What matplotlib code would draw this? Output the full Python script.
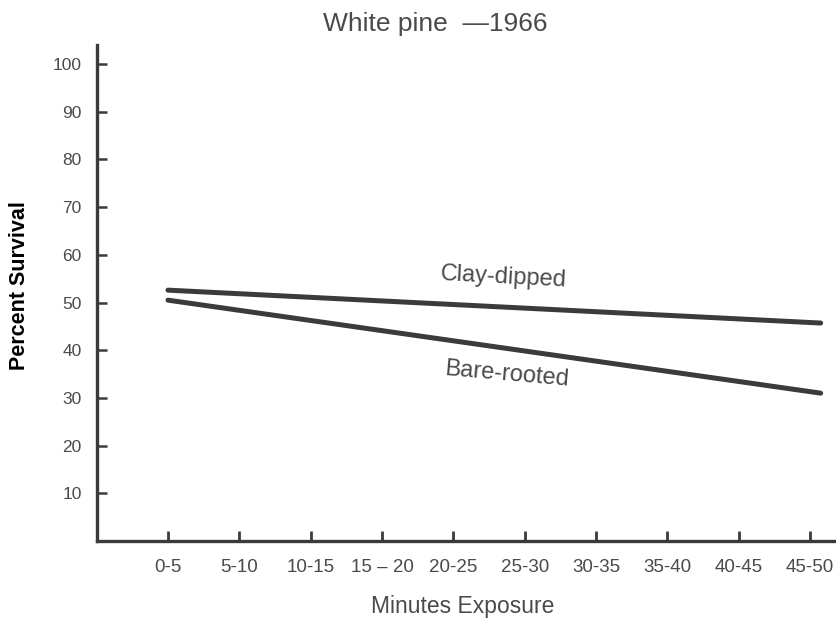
import matplotlib
matplotlib.use("Agg")
import matplotlib.pyplot as plt

# Data
categories = ["0-5", "5-10", "10-15", "15 \u2013 20", "20-25", "25-30", "30-35", "35-40", "40-45", "45-50"]
y_ticks = [10, 20, 30, 40, 50, 60, 70, 80, 90, 100]
line_x = [0, 9.15]                      # position along the category axis
clay_dipped = [52.6, 45.7]
bare_rooted = [50.5, 31.0]

plt.rcParams['font.family'] = ['Liberation Sans', 'DejaVu Sans']
ink = '#3a3c3c'
txt = '#4a4a4a'

fig = plt.figure(figsize=(8.36, 6.21), dpi=100)
ax = fig.add_axes([97/836, 80/621, 1 - 97/836, (541-45)/621])

ax.plot(line_x, clay_dipped, color=ink, lw=3.6, solid_capstyle='round')
ax.plot(line_x, bare_rooted, color=ink, lw=3.6, solid_capstyle='round')

ax.set_xlim(-0.995, 9.365)
ax.set_ylim(0, 104)

ax.set_xticks(range(len(categories)))
ax.set_xticklabels(categories)
ax.set_yticks(y_ticks)
ax.set_yticklabels([str(v) for v in y_ticks])

ax.tick_params(axis='x', direction='in', length=7, width=2, color=ink,
               pad=13, labelsize=13.5, labelcolor=txt)
ax.tick_params(axis='y', direction='in', length=7, width=1.8, color=ink,
               pad=11, labelsize=12.5, labelcolor=txt)

for s in ['top', 'right']:
    ax.spines[s].set_visible(False)
for s in ['left', 'bottom']:
    ax.spines[s].set_color(ink)
    ax.spines[s].set_linewidth(2.4)

ax.text(4.7, 55.2, "Clay-dipped", fontsize=17, color=txt, ha='center', va='center', rotation=-3)
ax.text(4.75, 35.0, "Bare-rooted", fontsize=17, color=txt, ha='center', va='center', rotation=-5)

fig.text(435/836, 1 - 24/621, "White pine  \u20141966", fontsize=19, color=txt, ha='center', va='center')
fig.text(463/836, 1 - 607/621, "Minutes Exposure", fontsize=16.5, color=txt, ha='center', va='center')
fig.text(20/836, 1 - 286/621, "Percent Survival", fontsize=15.5, fontweight='bold', color='black',
         ha='center', va='center', rotation=90)

fig.savefig("out.png", dpi=100)
